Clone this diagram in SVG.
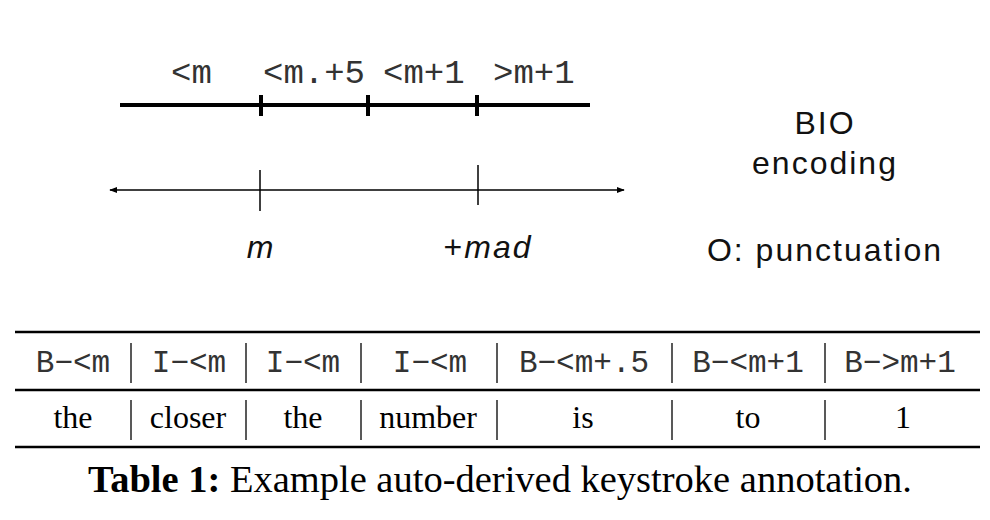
<svg xmlns="http://www.w3.org/2000/svg" width="990" height="520" viewBox="0 0 990 520">
<defs>
<marker id="ah" viewBox="0 0 10 10" refX="9" refY="5" markerWidth="8" markerHeight="8" markerUnits="userSpaceOnUse" orient="auto-start-reverse">
<path d="M0,1 L10,5 L0,9 z" fill="#000"/>
</marker>
<style>
.mono{font-family:"Liberation Mono","DejaVu Sans Mono",monospace;font-size:34px;fill:#333}
.sans{font-family:"Liberation Sans","Helvetica",sans-serif;font-size:32px;fill:#111;letter-spacing:2px}
.th{font-family:"Liberation Mono","Courier New",monospace;font-size:31px;fill:#333;text-anchor:middle}
.td{font-family:"Liberation Serif","Times New Roman",serif;font-size:32px;fill:#000;text-anchor:middle}
.rule{stroke:#000;stroke-width:2.5}
.sep{stroke:#222;stroke-width:1.5}
</style>
</defs>
<rect width="990" height="520" fill="#fff"/>
<g id="scale-top">
<line x1="120" y1="105" x2="590" y2="105" stroke="#000" stroke-width="4"/>
<line x1="261" y1="95" x2="261" y2="116" stroke="#000" stroke-width="4"/>
<line x1="368" y1="95" x2="368" y2="116" stroke="#000" stroke-width="4"/>
<line x1="477" y1="95" x2="477" y2="116" stroke="#000" stroke-width="4"/>
<text class="mono" x="171" y="83">&lt;m</text>
<text class="mono" x="263" y="83">&lt;m.+5</text>
<text class="mono" x="383" y="83">&lt;m+1</text>
<text class="mono" x="493" y="83">&gt;m+1</text>
</g>
<g id="scale-bottom">
<line x1="110" y1="190" x2="624" y2="190" stroke="#000" stroke-width="1.5" marker-start="url(#ah)" marker-end="url(#ah)"/>
<line x1="260" y1="170" x2="260" y2="211" stroke="#000" stroke-width="1.5"/>
<line x1="478" y1="165" x2="478" y2="205" stroke="#000" stroke-width="1.5"/>
<text class="sans" x="261" y="258" text-anchor="middle" font-style="italic">m</text>
<text class="sans" x="488" y="258" text-anchor="middle"><tspan>+</tspan><tspan font-style="italic">mad</tspan></text>
</g>
<g id="legend">
<text class="sans" x="825" y="134" text-anchor="middle">BIO</text>
<text class="sans" x="825" y="174" text-anchor="middle">encoding</text>
<text class="sans" x="825" y="261" text-anchor="middle">O: punctuation</text>
</g>
<g id="table">
<line class="rule" x1="15" y1="332" x2="980" y2="332"/>
<line class="rule" x1="15" y1="390" x2="980" y2="390" stroke-width="2"/>
<line class="rule" x1="15" y1="447" x2="980" y2="447"/>
<g class="sep-lines">
<line class="sep" x1="131" y1="343" x2="131" y2="383"/>
<line class="sep" x1="246" y1="343" x2="246" y2="383"/>
<line class="sep" x1="361" y1="343" x2="361" y2="383"/>
<line class="sep" x1="497" y1="343" x2="497" y2="383"/>
<line class="sep" x1="672" y1="343" x2="672" y2="383"/>
<line class="sep" x1="825" y1="343" x2="825" y2="383"/>
<line class="sep" x1="131" y1="400" x2="131" y2="440"/>
<line class="sep" x1="246" y1="400" x2="246" y2="440"/>
<line class="sep" x1="361" y1="400" x2="361" y2="440"/>
<line class="sep" x1="497" y1="400" x2="497" y2="440"/>
<line class="sep" x1="672" y1="400" x2="672" y2="440"/>
<line class="sep" x1="825" y1="400" x2="825" y2="440"/>
</g>
<text class="th" x="73" y="372">B−&lt;m</text>
<text class="th" x="189" y="372">I−&lt;m</text>
<text class="th" x="303" y="372">I−&lt;m</text>
<text class="th" x="430" y="372">I−&lt;m</text>
<text class="th" x="584" y="372">B−&lt;m+.5</text>
<text class="th" x="748" y="372">B−&lt;m+1</text>
<text class="th" x="900" y="372">B−&gt;m+1</text>
<text class="td" x="73" y="428">the</text>
<text class="td" x="188" y="428">closer</text>
<text class="td" x="303" y="428">the</text>
<text class="td" x="428" y="428">number</text>
<text class="td" x="583" y="428">is</text>
<text class="td" x="748" y="428">to</text>
<text class="td" x="903" y="428">1</text>
</g>
<g id="caption">
<text x="88" y="492" textLength="824" lengthAdjust="spacingAndGlyphs" font-family="'Liberation Serif','Times New Roman',serif" font-size="37" fill="#000"><tspan font-weight="bold">Table 1:</tspan> Example auto-derived keystroke annotation.</text>
</g>
</svg>
